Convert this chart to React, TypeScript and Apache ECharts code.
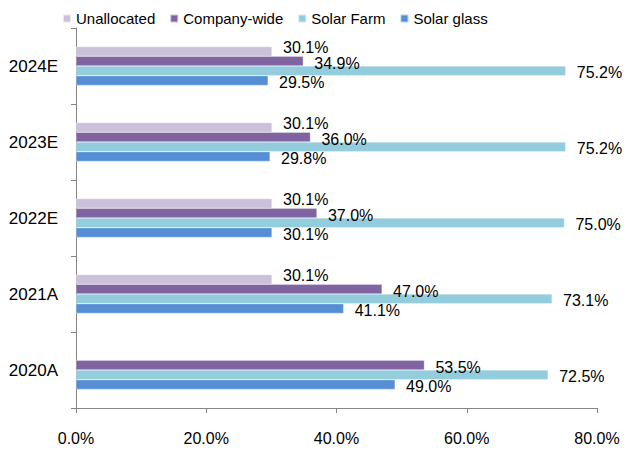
import React, { useEffect, useRef } from "react";
import * as echarts from "echarts";

const categories = ["2020A", "2021A", "2022E", "2023E", "2024E"];
const solarGlass = [49.0, 41.1, 30.1, 29.8, 29.5];
const solarFarm = [72.5, 73.1, 75.0, 75.2, 75.2];
const companyWide = [53.5, 47.0, 37.0, 36.0, 34.9];
const unallocated = [null, 30.1, 30.1, 30.1, 30.1];
const xTicks = [0, 20, 40, 60, 80];

const FONT = "'Liberation Sans', Arial, sans-serif";

export default function App() {
  const ref = useRef<HTMLDivElement>(null);
  useEffect(() => {
    if (!ref.current) return;
    const chart = echarts.init(ref.current, undefined, { renderer: "svg" });
    const label = (dy: number) => ({
      show: true,
      position: "right" as const,
      distance: 11,
      offset: [0, dy],
      color: "#000",
      fontSize: 16,
      fontFamily: FONT,
      formatter: (p: any) => (p.value == null ? "" : Number(p.value).toFixed(1) + "%"),
    });
    const mk = (name: string, data: any[], color: string, dy: number) => ({
      name,
      type: "bar",
      data,
      barGap: "0%",
      barCategoryGap: "49%",
      itemStyle: { color, borderColor: "rgba(255,255,255,0.6)", borderWidth: 0.5 },
      label: label(dy),
    });
    chart.setOption({
      animation: false,
      textStyle: { fontFamily: FONT },
      legend: {
        data: ["Unallocated", "Company-wide", "Solar Farm", "Solar glass"],
        left: 62,
        top: 11,
        padding: 0,
        itemWidth: 8,
        itemHeight: 8,
        itemGap: 14,
        icon: "rect",
        textStyle: { fontSize: 15, color: "#000", fontFamily: FONT },
      },
      grid: { left: 76, right: 30, top: 28, bottom: 42, containLabel: false },
      xAxis: {
        type: "value",
        min: xTicks[0],
        max: xTicks[xTicks.length - 1],
        interval: 20,
        splitLine: { show: false },
        axisLine: { show: true, lineStyle: { color: "#868686" } },
        axisTick: { show: true, length: 5, lineStyle: { color: "#868686" } },
        axisLabel: {
          color: "#000",
          fontSize: 16,
          fontFamily: FONT,
          margin: 22,
          formatter: (v: number) => v.toFixed(1) + "%",
        },
      },
      yAxis: {
        type: "category",
        data: categories,
        axisLine: { show: true, lineStyle: { color: "#868686" } },
        axisTick: { show: true, length: 5, lineStyle: { color: "#868686" } },
        axisLabel: { color: "#000", fontSize: 17, fontFamily: FONT, margin: 18 },
      },
      series: [
        mk("Unallocated", unallocated, "#CCC1DA", -4),
        mk("Company-wide", companyWide, "#8064A2", 2),
        mk("Solar Farm", solarFarm, "#93CDDD", 2),
        mk("Solar glass", solarGlass, "#558ED5", 2),
      ],
    });
    return () => chart.dispose();
  }, []);
  return (
    <div
      ref={ref}
      style={{ position: "fixed", left: 0, top: 0, width: 627, height: 450, background: "#fff" }}
    />
  );
}
